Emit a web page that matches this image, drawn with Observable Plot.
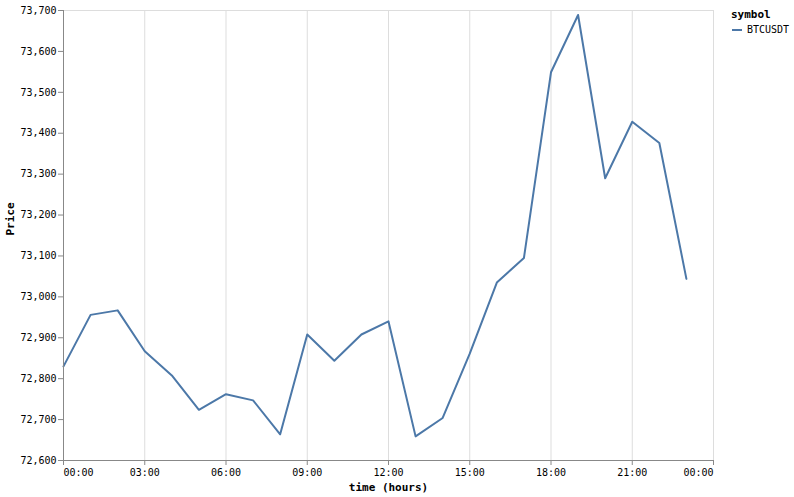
<!DOCTYPE html>
<html><head><meta charset="utf-8">
<script src="https://cdn.jsdelivr.net/npm/d3@7"></script>
<script src="https://cdn.jsdelivr.net/npm/@observablehq/plot@0.6"></script>
<style>
body{margin:0;background:#fff;font-family:"DejaVu Sans Mono",monospace;}
#wrap{position:relative;width:794px;height:497px;}
#legend{position:absolute;left:731px;top:7px;color:#000;}
#legend .t{font-weight:bold;font-size:11px;line-height:16px;}
#legend .r{font-size:10px;display:flex;align-items:center;margin-top:1px;}
#legend .r svg{margin-right:4px;}
</style></head><body><div id="wrap"></div>
<script>
const symbol = "BTCUSDT";
const hours = [0,1,2,3,4,5,6,7,8,9,10,11,12,13,14,15,16,17,18,19,20,21,22,23];
const prices = [72830,72956,72967,72867,72808,72724,72762,72747,72664,72908,72844,72908,72940,72659,72704,72861,73035,73095,73549,73689,73290,73428,73376,73044];
const tickHours = [0,3,6,9,12,15,18,21,24];
const yTicks = [72600,72700,72800,72900,73000,73100,73200,73300,73400,73500,73600,73700];
const yDomain = [72600, 73700];

const toDate = h => new Date(Date.UTC(2024, 2, 14, h));
const data = hours.map((h, i) => ({time: toDate(h), price: prices[i], symbol}));
const xTicks = tickHours.map(toDate);
const fmt = d3.utcFormat("%H:%M");
const axisOpts = {tickSize: 5, tickPadding: 3, tickFormat: fmt, stroke: "#888", fill: "#000", fontSize: 10, label: null};

const chart = Plot.plot({
  width: 794, height: 497,
  marginLeft: 63, marginTop: 10, marginRight: 81, marginBottom: 37,
  style: {fontFamily: "DejaVu Sans Mono", fontSize: "10px", background: "white", color: "#000"},
  x: {type: "utc", domain: [xTicks[0], xTicks[xTicks.length - 1]]},
  y: {domain: yDomain},
  marks: [
    Plot.frame({stroke: "#ddd"}),
    Plot.gridX(xTicks, {stroke: "#ddd", strokeOpacity: 1}),
    Plot.line(data, {x: "time", y: "price", stroke: "#4c78a8", strokeWidth: 2}),
    Plot.ruleX([xTicks[0]], {stroke: "#888"}),
    Plot.ruleY([yDomain[0]], {stroke: "#888"}),
    Plot.axisY(yTicks, {tickSize: 5, tickPadding: 2, tickFormat: d3.format(","), stroke: "#888", fill: "#000", fontSize: 10, label: null}),
    Plot.axisX(xTicks.slice(0, 1), {...axisOpts, textAnchor: "start"}),
    Plot.axisX(xTicks.slice(1, -1), {...axisOpts}),
    Plot.axisX(xTicks.slice(-1), {...axisOpts, textAnchor: "end"}),
    Plot.text(["time (hours)"], {frameAnchor: "bottom", dy: 27, fontWeight: "bold", fontSize: 11, lineAnchor: "middle", fill: "#000"}),
    Plot.text(["Price"], {frameAnchor: "left", dx: -53, rotate: -90, fontWeight: "bold", fontSize: 11, lineAnchor: "middle", fill: "#000"})
  ]
});
const wrap = document.getElementById("wrap");
wrap.appendChild(chart);
const legend = document.createElement("div");
legend.id = "legend";
legend.innerHTML = `<div class="t">symbol</div><div class="r"><svg width="12" height="10"><line x1="1" x2="11" y1="5" y2="5" stroke="#4c78a8" stroke-width="2"/></svg><span>${symbol}</span></div>`;
wrap.appendChild(legend);
</script></body></html>
